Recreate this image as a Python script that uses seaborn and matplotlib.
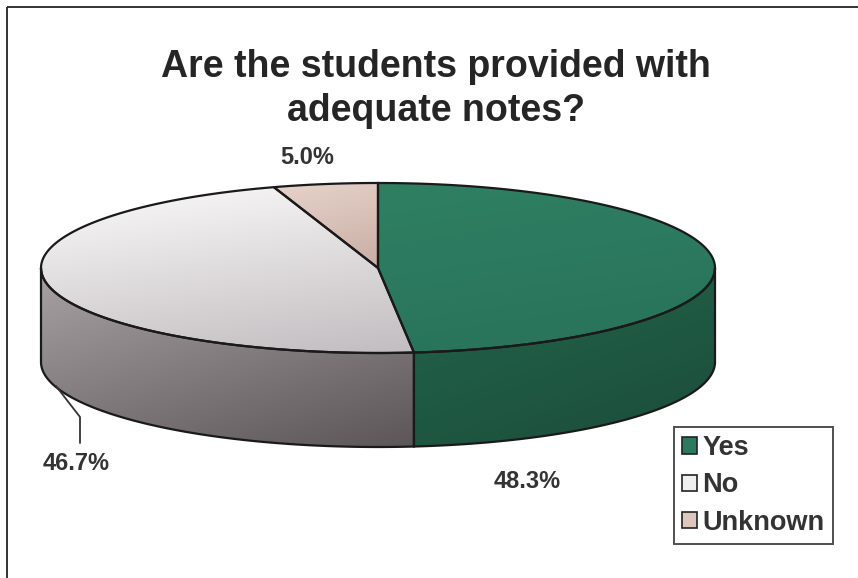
import numpy as np
import matplotlib
matplotlib.use("Agg")
import matplotlib.pyplot as plt
from matplotlib.patches import Polygon, Rectangle, Patch
from matplotlib.colors import LinearSegmentedColormap
import seaborn as sns

# data
labels = ["Yes", "No", "Unknown"]
shares = [48.3, 46.7, 5.0]
pct_labels = ["48.3%", "46.7%", "5.0%"]
title = "Are the students provided with\nadequate notes?"

sns.set_theme(style="white")
plt.rcParams["font.family"] = ["Liberation Sans", "DejaVu Sans"]

# colours: top face (light, dark) and side (light, dark)
top_cols = [("#2f8063", "#28725a"), ("#fbfafa", "#c2bdc0"), ("#e6d3cb", "#c9aea3")]
side_cols = [("#23654b", "#1b4d3a"), ("#a8a2a5", "#5c5659"), ("#b49a90", "#8c766d")]
legend_cols = sns.color_palette(["#2a7a5e", "#f0eef0", "#dcc6bd"])

# pie geometry in pixels
cx, cy, rx, ry, depth = 378, 268, 337, 85, 94

W, H = 858, 578
fig = plt.figure(figsize=(W / 100, H / 100), dpi=100)
ax = fig.add_axes([0, 0, 1, 1])
ax.set_xlim(0, W)
ax.set_ylim(H, 0)
ax.axis("off")


def arc(t1, t2, dy=0.0, n=120):
    t = np.radians(np.linspace(t1, t2, n))
    return np.column_stack([cx + rx * np.sin(t), cy - ry * np.cos(t) + dy])


def grad_fill(verts, c1, c2, wx=0.4, wy=1.0):
    poly = Polygon(verts, closed=True, facecolor="none", edgecolor="none")
    ax.add_patch(poly)
    x0, y0 = verts.min(axis=0)
    x1, y1 = verts.max(axis=0)
    X, Y = np.meshgrid(np.linspace(0, 1, 200), np.linspace(0, 1, 200))
    g = wx * X + wy * Y
    g = (g - g.min()) / (g.max() - g.min())
    cmap = LinearSegmentedColormap.from_list("g", [c1, c2])
    im = ax.imshow(g, cmap=cmap, extent=(x0, x1, y1, y0), origin="upper",
                   aspect="auto", interpolation="bilinear", zorder=2)
    im.set_clip_path(poly)


ends = np.cumsum(shares) / sum(shares) * 360
starts = np.concatenate([[0], ends[:-1]])

# sides (front half only)
for i in range(len(shares)):
    lo, hi = max(starts[i], 90), min(ends[i], 270)
    if lo < hi:
        v = np.vstack([arc(lo, hi), arc(hi, lo, depth)])
        grad_fill(v, side_cols[i][0], side_cols[i][1], wx=0.6, wy=1.0)
        ax.add_patch(Polygon(v, closed=True, facecolor="none",
                             edgecolor="#1a1a1a", lw=1.6, zorder=3))

# tops
for i in range(len(shares)):
    v = np.vstack([[cx, cy], arc(starts[i], ends[i])])
    grad_fill(v, top_cols[i][0], top_cols[i][1], wx=0.3, wy=1.0)
    ax.add_patch(Polygon(v, closed=True, facecolor="none",
                         edgecolor="#1a1a1a", lw=1.6, zorder=3))

# percentage labels
label_pos = [(527, 481), (76, 464), (307, 157)]
for txt, (x, y) in zip(pct_labels, label_pos):
    ax.text(x, y, txt, ha="center", va="center", fontsize=17,
            fontweight="bold", color="#333333", zorder=5)
ax.plot([56, 80, 80], [386, 417, 443], color="#333333", lw=1.3, zorder=4)

# title
ax.text(436, 89, title, ha="center", va="center", fontsize=27,
        fontweight="bold", color="#252525", linespacing=1.3)

# outer frame (only left and top edges fall inside the picture)
ax.add_patch(Rectangle((7, 7), 900, 600, facecolor="none",
                       edgecolor="#333333", lw=1.4, zorder=1))

handles = [Patch(facecolor=c, edgecolor="#222222", lw=1.2) for c in legend_cols]
leg = ax.legend(handles, labels, loc="upper left",
                bbox_to_anchor=(674 / W, 1 - 427 / H), bbox_transform=fig.transFigure,
                prop={"weight": "bold", "size": 19.5}, frameon=True, fancybox=False,
                edgecolor="#222222", handlelength=0.55, handleheight=0.55,
                handletextpad=0.2, labelspacing=0.42, borderpad=0.3,
                borderaxespad=0)
leg.get_frame().set_linewidth(1.4)
for t in leg.get_texts():
    t.set_color("#333333")

fig.savefig("out.png", dpi=100, facecolor="white")
